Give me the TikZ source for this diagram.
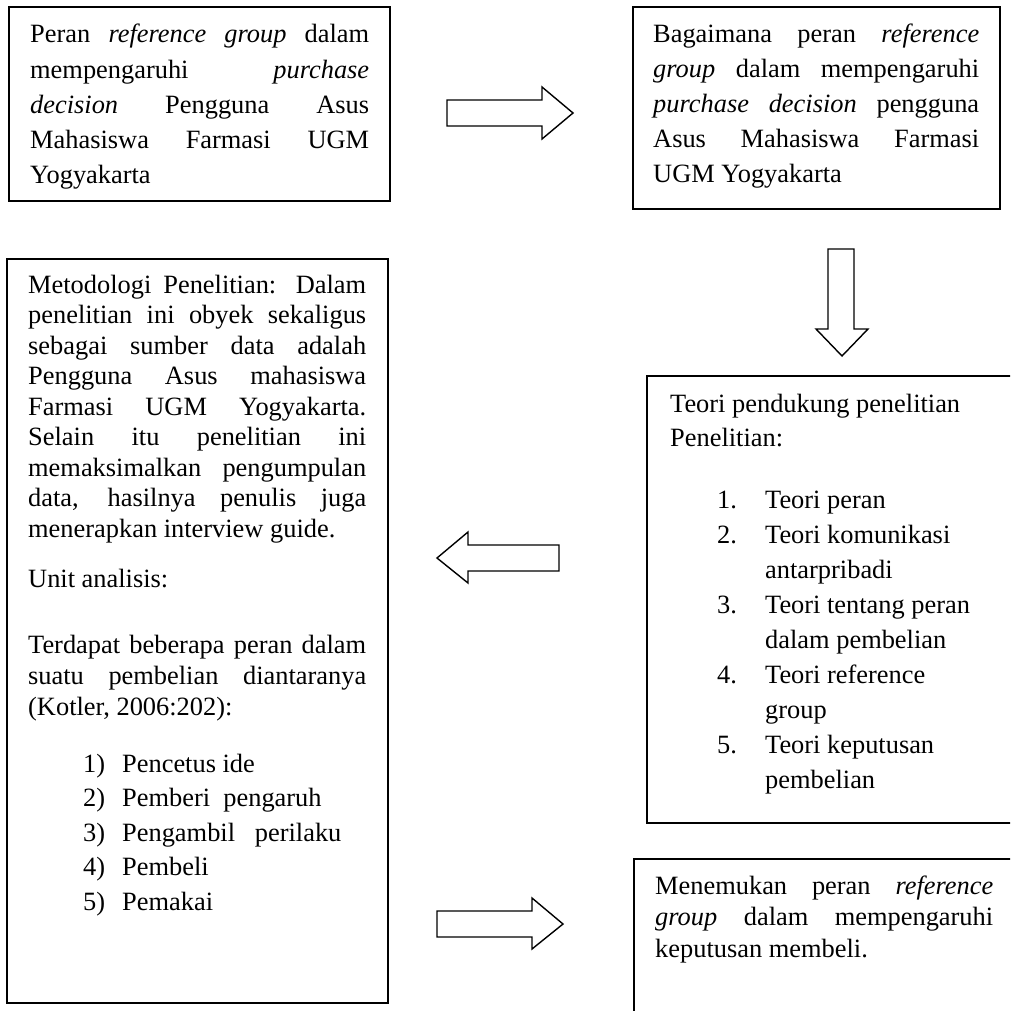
\documentclass[tikz,border=0pt]{standalone}
\usepackage{fontspec}
\setmainfont{Liberation Serif}
\newcommand{\jl}[1]{\hbox to \hsize{#1}}
\newcommand{\lft}[1]{\hbox to \hsize{#1\hfil}}
% \nit{indent}{numberwidth}{number}{text}
\newcommand{\nit}[4]{\hbox to \hsize{\hskip #1\relax\hbox to #2{#3\hfil}#4\hfil}}
\newcommand{\para}[3]{\vtop{\hsize=#1\relax\baselineskip=#2\relax\lineskiplimit=-100pt\relax #3}}
\tikzset{
  box/.style={draw=black, line width=1.5pt},
  blockarrow/.style={draw=black, line width=1.4pt, fill=white, line join=miter},
  txt/.style={anchor=base west, inner sep=0pt, font=\fontsize{26.4}{30}\selectfont}
}
\begin{document}
\begin{tikzpicture}[x=1pt,y=-1pt]
\useasboundingbox (0,0) rectangle (1010,1011);
\clip (0,0) rectangle (1010,1011);
\fill[white] (0,0) rectangle (1010,1011);

% Box 1
\draw[box] (9,7) rectangle (390,201);
\node[txt] (t1) at (30,43) {\para{339pt}{35.2pt}{%
\jl{Peran \textit{reference} \textit{group} dalam}
\jl{mempengaruhi \textit{purchase}}
\jl{\textit{decision} Pengguna Asus}
\jl{Mahasiswa Farmasi UGM}
\lft{Yogyakarta}}};

% Box 2
\draw[box] (633,7) rectangle (1000,209);
\node[txt] (t2) at (653,43) {\para{326pt}{35pt}{%
\jl{Bagaimana peran \textit{reference}}
\jl{\textit{group} dalam mempengaruhi}
\jl{\textit{purchase decision} pengguna}
\jl{Asus Mahasiswa Farmasi}
\lft{UGM Yogyakarta}}};

% Box 3
\draw[box] (7,259) rectangle (388,1003);
\node[txt] (t3a) at (28,293) {\para{338pt}{30.5pt}{%
\jl{Metodologi Penelitian: Dalam}
\jl{penelitian ini obyek sekaligus}
\jl{sebagai sumber data adalah}
\jl{Pengguna Asus mahasiswa}
\jl{Farmasi UGM Yogyakarta.}
\jl{Selain itu penelitian ini}
\jl{memaksimalkan pengumpulan}
\jl{data, hasilnya penulis juga}
\lft{menerapkan interview guide.}}};
\node[txt] (t3b) at (28,587) {Unit analisis:};
\node[txt] (t3c) at (28,653) {\para{338pt}{31pt}{%
\jl{Terdapat beberapa peran dalam}
\jl{suatu pembelian diantaranya}
\lft{(Kotler, 2006:202):}}};
\node[txt] (t3d) at (28,772) {\para{338pt}{34.5pt}{%
\nit{55pt}{39pt}{1)}{Pencetus ide}
\nit{55pt}{39pt}{2)}{Pemberi\ \ pengaruh}
\nit{55pt}{39pt}{3)}{Pengambil\ \ \ perilaku}
\nit{55pt}{39pt}{4)}{Pembeli}
\nit{55pt}{39pt}{5)}{Pemakai}}};

% Box 4
\draw[box] (647,376) rectangle (1020,823);
\node[txt] (t4a) at (670,412) {\para{330pt}{34pt}{%
\lft{Teori pendukung penelitian}
\lft{Penelitian:}}};
\node[txt] (t4b) at (670,508) {\para{330pt}{35pt}{%
\nit{47pt}{48pt}{1.}{Teori peran}
\nit{47pt}{48pt}{2.}{Teori komunikasi}
\nit{47pt}{48pt}{}{antarpribadi}
\nit{47pt}{48pt}{3.}{Teori tentang peran}
\nit{47pt}{48pt}{}{dalam pembelian}
\nit{47pt}{48pt}{4.}{Teori reference}
\nit{47pt}{48pt}{}{group}
\nit{47pt}{48pt}{5.}{Teori keputusan}
\nit{47pt}{48pt}{}{pembelian}}};

% Box 5
\draw[box] (634,859) rectangle (1020,1030);
\node[txt] (t5) at (655,894) {\para{338pt}{31.5pt}{%
\jl{Menemukan peran \textit{reference}}
\jl{\textit{group} dalam mempengaruhi}
\lft{keputusan membeli.}}};

% Block arrows
\draw[blockarrow] (447,100) -- (542,100) -- (542,87) -- (573,113) -- (542,139) -- (542,126) -- (447,126) -- cycle;
\draw[blockarrow] (828,249) -- (854,249) -- (854,329) -- (868,329) -- (842,356) -- (816,329) -- (828,329) -- cycle;
\draw[blockarrow] (559,545) -- (468,545) -- (468,532) -- (437,558) -- (468,583) -- (468,571) -- (559,571) -- cycle;
\draw[blockarrow] (437,911) -- (532,911) -- (532,898) -- (563,924) -- (532,949) -- (532,937) -- (437,937) -- cycle;
\end{tikzpicture}
\end{document}
